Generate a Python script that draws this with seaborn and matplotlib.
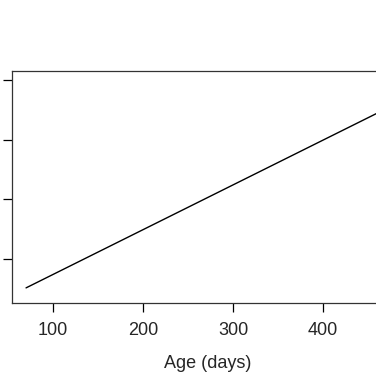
import matplotlib
matplotlib.use("Agg")
import matplotlib.pyplot as plt
import pandas as pd
import seaborn as sns

# fitted line (y units are arbitrary: tick labels are cropped)
age_days = [70, 473]
fitted = [0.52, 3.54]

x_ticks = [100, 200, 300, 400]
y_ticks = [1, 2, 3, 4]

sns.set_style("ticks")
plt.rcParams["font.family"] = ["Liberation Sans", "DejaVu Sans"]

fig = plt.figure(figsize=(3.76, 3.76), dpi=100)
# axes run past the right edge of the figure, as in the cropped reference
ax = fig.add_axes([12 / 376, 73 / 376, 392 / 376, 232 / 376])

df = pd.DataFrame({"age": age_days, "fit": fitted})
sns.lineplot(data=df, x="age", y="fit", ax=ax, color="black", linewidth=1.0)

ax.set_xlim(54.4, 490)
ax.set_ylim(0.267, 4.15)
ax.set_xticks(x_ticks)
ax.set_yticks(y_ticks)
# y labels fall outside the crop in the reference
ax.set_yticklabels([""] * len(y_ticks))
ax.tick_params(axis="both", length=6.5, width=0.9, color="black",
               labelsize=13, pad=7)
for side in ["left", "bottom", "top", "right"]:
    ax.spines[side].set_visible(True)
    ax.spines[side].set_color("#333333")
    ax.spines[side].set_linewidth(0.9)

ax.set_xlabel("Age (days)", fontsize=13, labelpad=12)
ax.set_ylabel("")

fig.savefig("out.png", dpi=100)
plt.close(fig)
